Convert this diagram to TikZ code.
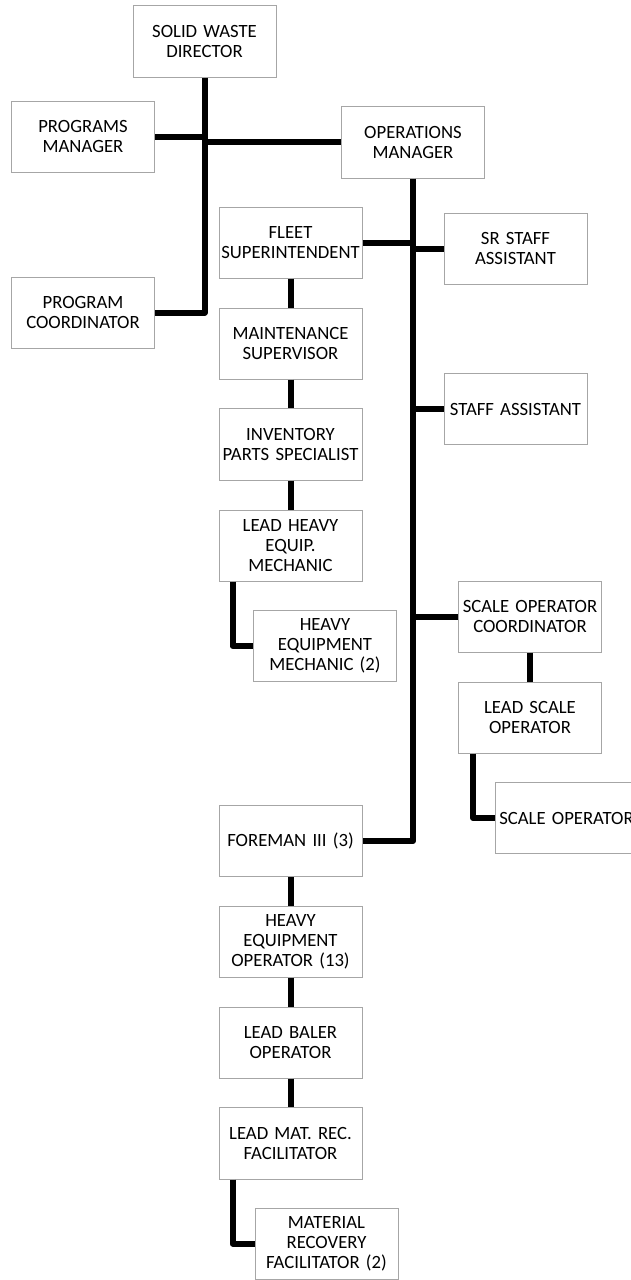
\documentclass[tikz,border=0pt]{standalone}
\usepackage{fontspec}
\setmainfont{Carlito}
\definecolor{boxgray}{HTML}{A6A6A6}
\tikzset{
  box/.style={draw=boxgray, line width=1pt, fill=white, minimum width=143pt, minimum height=71pt,
    inner sep=0pt, align=center, text width=143pt, font=\fontsize{18.7}{20}\selectfont},
  conn/.style={line width=6pt, line join=round}
}
\begin{document}
\begin{tikzpicture}[x=1pt,y=-1pt]
\useasboundingbox (0,0) rectangle (631,1280);
\node[box, minimum height=72pt] (dir) at (204.5,41) {SOLID WASTE\\DIRECTOR};
\node[box] (pm) at (83,136.5) {PROGRAMS\\MANAGER};
\node[box] (pc) at (83,312.5) {PROGRAM\\COORDINATOR};
\node[box, minimum height=72pt] (ops) at (413,142) {OPERATIONS\\MANAGER};
\node[box] (fleet) at (290.5,242.5) {FLEET\\SUPERINTENDENT};
\node[box] (srsa) at (515.5,248.5) {SR STAFF\\ASSISTANT};
\node[box] (maint) at (290.5,343.5) {MAINTENANCE\\SUPERVISOR};
\node[box] (sa) at (515.5,409) {STAFF ASSISTANT};
\node[box, minimum height=72pt] (inv) at (290.5,444) {INVENTORY\\PARTS SPECIALIST};
\node[box] (lhem) at (290.5,545.5) {LEAD HEAVY\\EQUIP.\\MECHANIC};
\node[box] (hem) at (325,646) {HEAVY\\EQUIPMENT\\MECHANIC (2)};
\node[box] (soc) at (530,616.5) {SCALE OPERATOR\\COORDINATOR};
\node[box] (lso) at (530,717.5) {LEAD SCALE\\OPERATOR};
\node[box] (so) at (566.5,818) {SCALE OPERATOR};
\node[box] (fore) at (290.5,841) {FOREMAN III (3)};
\node[box] (heo) at (290.5,941.5) {HEAVY\\EQUIPMENT\\OPERATOR (13)};
\node[box] (lbo) at (290.5,1042.5) {LEAD BALER\\OPERATOR};
\node[box, minimum height=72pt] (lmrf) at (290.5,1143) {LEAD MAT. REC.\\FACILITATOR};
\node[box] (mrf) at (326.5,1243.5) {MATERIAL\\RECOVERY\\FACILITATOR (2)};
% connectors
\draw[conn] (dir.south) |- (pc.east);
\draw[conn] (pm.east) -- (pm.east -| dir.south);
\draw[conn] (ops.west) -- (ops.west -| dir.south);
\draw[conn] (ops.south) |- (fore.east);
\draw[conn] (fleet.east) -- (fleet.east -| ops.south);
\draw[conn] (srsa.west) -- (srsa.west -| ops.south);
\draw[conn] (sa.west) -- (sa.west -| ops.south);
\draw[conn] (soc.west) -- (soc.west -| ops.south);
\draw[conn] (fleet.south) -- (maint.north);
\draw[conn] (maint.south) -- (inv.north);
\draw[conn] (inv.south) -- (lhem.north);
\draw[conn] ([xshift=14pt]lhem.south west) |- (hem.west);
\draw[conn] (soc.south) -- (lso.north);
\draw[conn] ([xshift=15pt]lso.south west) |- (so.west);
\draw[conn] (fore.south) -- (heo.north);
\draw[conn] (heo.south) -- (lbo.north);
\draw[conn] (lbo.south) -- (lmrf.north);
\draw[conn] ([xshift=14pt]lmrf.south west) |- (mrf.west);
\end{tikzpicture}
\end{document}
